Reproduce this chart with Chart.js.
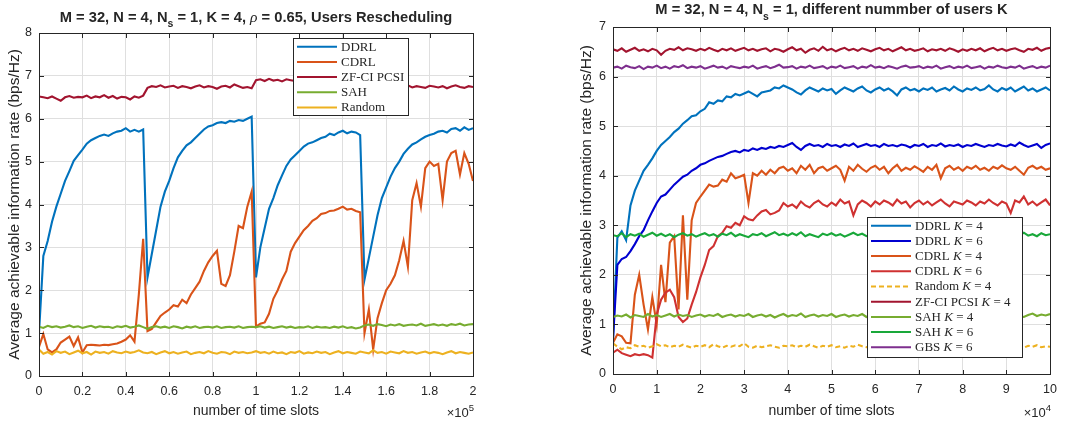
<!DOCTYPE html>
<html>
<head>
<meta charset="utf-8">
<title>Average achievable information rate</title>
<script src="https://cdn.jsdelivr.net/npm/chart.js@4.4.1/dist/chart.umd.min.js"></script>
<style>
  body { margin: 0; background: #fff; }
  #figure { position: relative; width: 1065px; height: 423px; }
  .panel { position: absolute; top: 0; width: 530px; height: 423px; }
</style>
</head>
<body>
<div id="figure">
  <div class="panel" style="left:0"><canvas id="chartResched"></canvas></div>
  <div class="panel" style="left:535px"><canvas id="chartUsers"></canvas></div>
</div>
<script>
const SANS = '"Liberation Sans", Arial, sans-serif';
const SERIF = '"Liberation Serif", "Times New Roman", serif';
const INK = '#262626';
const GRID = '#dfdfdf';

// ---------- left panel: users rescheduled every 0.5e5 slots ----------
// time axis in units of 1e5 slots, one sample every 2000 slots
const slotsResched = Array.from({ length: 101 }, (_, i) => +(i * 0.02).toFixed(2));

const ddrlResched = [
  1.00, 2.80, 3.15, 3.60, 3.95, 4.25, 4.55, 4.78, 5.02, 5.15,
  5.28, 5.42, 5.50, 5.55, 5.60, 5.63, 5.60, 5.66, 5.70, 5.72,
  5.78, 5.70, 5.74, 5.70, 5.75, 2.30, 2.85, 3.40, 3.95, 4.30,
  4.55, 4.85, 5.10, 5.25, 5.38, 5.45, 5.55, 5.65, 5.75, 5.82,
  5.85, 5.90, 5.92, 5.90, 5.95, 5.93, 5.97, 5.95, 6.00, 6.05,
  2.30, 3.00, 3.45, 3.90, 4.15, 4.45, 4.68, 4.90, 5.05, 5.15,
  5.25, 5.35, 5.42, 5.45, 5.50, 5.55, 5.58, 5.65, 5.62, 5.68,
  5.72, 5.66, 5.70, 5.68, 5.62, 2.25, 2.75, 3.25, 3.75, 4.15,
  4.40, 4.65, 4.85, 5.00, 5.18, 5.30, 5.40, 5.45, 5.52, 5.58,
  5.62, 5.65, 5.70, 5.72, 5.68, 5.76, 5.78, 5.72, 5.80, 5.74,
  5.78
];
const cdrlResched = [
  0.68, 0.98, 0.62, 0.55, 0.62, 0.78, 0.85, 0.92, 0.70, 0.90,
  0.55, 0.72, 0.73, 0.72, 0.71, 0.73, 0.72, 0.74, 0.76, 0.80,
  0.85, 0.95, 0.80, 1.90, 3.20, 1.05, 1.10, 1.25, 1.40, 1.48,
  1.55, 1.65, 1.62, 1.78, 1.70, 1.90, 2.05, 2.20, 2.45, 2.65,
  2.80, 2.92, 2.15, 2.10, 2.35, 2.90, 3.50, 3.45, 3.95, 4.30,
  1.15, 1.22, 1.25, 1.45, 1.80, 2.00, 2.25, 2.45, 2.90, 3.10,
  3.25, 3.40, 3.50, 3.62, 3.68, 3.78, 3.80, 3.85, 3.86, 3.90,
  3.95, 3.88, 3.90, 3.85, 3.82, 1.00, 1.55, 0.62, 1.35, 1.70,
  2.00, 2.15, 2.35, 2.70, 3.15, 2.55, 4.10, 4.50, 3.95, 4.85,
  5.00, 4.90, 4.95, 4.10, 5.00, 5.20, 5.25, 4.70, 5.20, 4.95,
  4.55
];
const zfResched = [
  6.52, 6.50, 6.48, 6.52, 6.47, 6.42, 6.50, 6.53, 6.49, 6.51,
  6.50, 6.54, 6.48, 6.52, 6.50, 6.55, 6.49, 6.53, 6.47, 6.51,
  6.50, 6.45, 6.52, 6.49, 6.54, 6.72, 6.76, 6.74, 6.78, 6.73,
  6.75, 6.77, 6.72, 6.76, 6.74, 6.71, 6.75, 6.78, 6.73, 6.76,
  6.74, 6.70, 6.75, 6.77, 6.73, 6.80, 6.76, 6.72, 6.74, 6.71,
  6.90, 6.92, 6.88, 6.93, 6.89, 6.91, 6.87, 6.92, 6.90, 6.88,
  6.93, 6.90, 6.89, 6.92, 6.87, 6.91, 6.90, 6.93, 6.88, 6.90,
  6.92, 6.89, 6.91, 6.88, 6.90, 6.76, 6.78, 6.73, 6.75, 6.77,
  6.72, 6.76, 6.74, 6.70, 6.75, 6.78, 6.73, 6.76, 6.74, 6.72,
  6.77, 6.75, 6.73, 6.76, 6.71, 6.75, 6.78, 6.74, 6.72, 6.76,
  6.74
];
const sahResched = [
  1.15, 1.12, 1.17, 1.14, 1.16, 1.13, 1.15, 1.18, 1.14, 1.16,
  1.12, 1.15, 1.17, 1.13, 1.16, 1.14, 1.15, 1.12, 1.16, 1.14,
  1.17, 1.13, 1.15, 1.18, 1.14, 1.10, 1.14, 1.16, 1.13, 1.15,
  1.12, 1.16, 1.14, 1.11, 1.15, 1.13, 1.16, 1.12, 1.14, 1.15,
  1.13, 1.16, 1.12, 1.14, 1.15, 1.13, 1.16, 1.12, 1.14, 1.15,
  1.14, 1.16, 1.13, 1.15, 1.12, 1.14, 1.16, 1.13, 1.15, 1.12,
  1.14, 1.13, 1.16, 1.12, 1.15, 1.13, 1.14, 1.12, 1.15, 1.13,
  1.16, 1.12, 1.14, 1.11, 1.13, 1.18, 1.20, 1.17, 1.21, 1.19,
  1.16, 1.20, 1.18, 1.21, 1.17, 1.19, 1.20, 1.18, 1.22, 1.17,
  1.19, 1.21, 1.18, 1.20, 1.17, 1.21, 1.19, 1.22, 1.18, 1.20,
  1.21
];
const randomResched = [
  0.62, 0.52, 0.56, 0.50, 0.58, 0.54, 0.57, 0.51, 0.55, 0.59,
  0.53, 0.56, 0.50, 0.57, 0.54, 0.56, 0.52, 0.58, 0.55, 0.53,
  0.57, 0.54, 0.56, 0.60, 0.55, 0.53, 0.56, 0.51, 0.55, 0.58,
  0.53, 0.56, 0.52, 0.55, 0.57, 0.51, 0.54, 0.56, 0.53, 0.58,
  0.54, 0.52, 0.56, 0.55, 0.51, 0.57, 0.54, 0.56, 0.53, 0.55,
  0.58, 0.54, 0.56, 0.52, 0.57, 0.53, 0.55, 0.51, 0.56, 0.54,
  0.58, 0.52, 0.55, 0.53, 0.57, 0.54, 0.56, 0.51, 0.55, 0.58,
  0.53, 0.56, 0.54, 0.52, 0.57, 0.55, 0.53, 0.60, 0.54, 0.56,
  0.52, 0.57, 0.55, 0.53, 0.58, 0.54, 0.56, 0.52, 0.55, 0.57,
  0.53, 0.56, 0.54, 0.51, 0.55, 0.58, 0.53, 0.56, 0.54, 0.52,
  0.55
];
const reschedLabels = ['DDRL', 'CDRL', 'ZF-CI PCSI', 'SAH', 'Random'];
const reschedColors = ['#0072BD', '#D95319', '#A2142F', '#77AC30', '#EDB120'];
const reschedXTicks = [0, 0.2, 0.4, 0.6, 0.8, 1, 1.2, 1.4, 1.6, 1.8, 2];
const reschedYTicks = [0, 1, 2, 3, 4, 5, 6, 7, 8];

// ---------- right panel: different number of users K ----------
// time axis in units of 1e4 slots, one sample every 1000 slots
const slotsUsers = Array.from({ length: 101 }, (_, i) => +(i * 0.1).toFixed(1));

const ddrlK4 = [
  0.70, 2.75, 2.88, 2.70, 3.40, 3.70, 3.90, 4.10, 4.22, 4.35,
  4.50, 4.62, 4.70, 4.78, 4.88, 4.95, 5.05, 5.12, 5.20, 5.22,
  5.30, 5.35, 5.48, 5.45, 5.52, 5.50, 5.60, 5.58, 5.65, 5.62,
  5.66, 5.70, 5.65, 5.60, 5.68, 5.70, 5.72, 5.78, 5.76, 5.82,
  5.78, 5.74, 5.68, 5.64, 5.72, 5.78, 5.74, 5.70, 5.76, 5.72,
  5.75, 5.65, 5.72, 5.78, 5.74, 5.70, 5.76, 5.80, 5.72, 5.68,
  5.74, 5.78, 5.72, 5.76, 5.70, 5.62, 5.74, 5.78, 5.72, 5.75,
  5.70, 5.76, 5.73, 5.78, 5.70, 5.74, 5.77, 5.72, 5.80, 5.74,
  5.70, 5.76, 5.73, 5.78, 5.72, 5.75, 5.82, 5.74, 5.70, 5.77,
  5.73, 5.78, 5.70, 5.75, 5.80, 5.72, 5.76, 5.70, 5.74, 5.78,
  5.72
];
const ddrlK6 = [
  0.70, 2.20, 2.32, 2.36, 2.48, 2.62, 2.78, 2.90, 3.10, 3.28,
  3.45, 3.58, 3.62, 3.72, 3.82, 3.90, 3.98, 4.02, 4.10, 4.15,
  4.22, 4.25, 4.30, 4.34, 4.38, 4.40, 4.44, 4.48, 4.50, 4.47,
  4.52, 4.50, 4.55, 4.52, 4.56, 4.54, 4.58, 4.56, 4.60, 4.58,
  4.62, 4.66, 4.58, 4.52, 4.60, 4.64, 4.60, 4.62, 4.58, 4.64,
  4.60, 4.62, 4.58, 4.63, 4.60, 4.65, 4.58, 4.61, 4.64, 4.60,
  4.62, 4.58, 4.64, 4.60, 4.62, 4.59, 4.63, 4.61, 4.57, 4.62,
  4.60, 4.64, 4.58, 4.62, 4.60, 4.65, 4.59, 4.62, 4.60, 4.63,
  4.58, 4.62, 4.60, 4.64, 4.61, 4.58, 4.62, 4.60, 4.64, 4.61,
  4.59, 4.63, 4.60, 4.67, 4.62, 4.58, 4.61, 4.64, 4.56, 4.62,
  4.65
];
const cdrlK4 = [
  0.63, 0.80, 0.76, 0.63, 0.62, 1.60, 2.00, 1.40, 0.90, 1.55,
  1.00, 2.20, 1.45, 2.65, 2.78, 1.30, 3.20, 1.50, 3.10, 3.45,
  3.58, 3.70, 3.82, 3.78, 3.80, 3.92, 3.88, 4.05, 3.95, 3.98,
  4.02, 3.45, 4.05, 4.00, 4.10, 4.02, 4.12, 4.05, 4.15, 4.18,
  4.10, 4.15, 4.05, 4.20, 4.12, 4.22, 4.05, 4.15, 4.18, 4.10,
  4.15, 4.20, 4.12, 3.90, 4.18, 4.10, 4.22, 4.14, 4.08, 4.16,
  4.20, 4.12, 4.18, 4.05, 4.15, 4.22, 4.10, 4.16, 4.12, 4.19,
  4.14, 4.08, 4.18, 4.12, 4.22, 3.95, 4.15, 4.20, 4.12, 4.17,
  4.10, 4.18, 4.14, 4.20, 4.12, 4.16, 4.10, 4.18, 4.14, 4.21,
  4.15, 4.12, 4.18, 4.10, 4.02, 4.16, 4.20, 4.14, 4.18, 4.12,
  4.15
];
const cdrlK6 = [
  0.43, 0.49, 0.42, 0.39, 0.36, 0.40, 0.38, 0.40, 0.38, 0.33,
  1.20, 1.50, 1.64, 1.70, 1.55, 1.15, 1.05, 1.12, 1.40, 1.65,
  1.95, 2.20, 2.50, 2.58, 2.78, 2.85, 2.98, 2.95, 3.05, 3.00,
  3.18, 3.12, 3.10, 3.20, 3.28, 3.31, 3.22, 3.25, 3.30, 3.45,
  3.38, 3.42, 3.35, 3.48, 3.40, 3.36, 3.45, 3.50, 3.42, 3.38,
  3.46, 3.40, 3.52, 3.44, 3.48, 3.20, 3.42, 3.50, 3.45, 3.38,
  3.48, 3.42, 3.50, 3.46, 3.40, 3.52, 3.44, 3.48, 3.36, 3.45,
  3.50, 3.42, 3.48, 3.40, 3.46, 3.52, 3.44, 3.38, 3.48, 3.45,
  3.42, 3.50, 3.46, 3.40, 3.48, 3.44, 3.52, 3.45, 3.40, 3.48,
  3.44, 3.25, 3.50, 3.46, 3.58, 3.42, 3.48, 3.40, 3.46, 3.52,
  3.40
];
const randomK4 = [
  0.62, 0.55, 0.50, 0.54, 0.52, 0.58, 0.55, 0.57, 0.53, 0.56,
  0.60, 0.56, 0.58, 0.54, 0.57, 0.55, 0.59, 0.56, 0.53, 0.57,
  0.55, 0.58, 0.54, 0.60, 0.56, 0.53, 0.57, 0.55, 0.58, 0.56,
  0.62, 0.55, 0.53, 0.57, 0.54, 0.56, 0.58, 0.55, 0.53, 0.57,
  0.56, 0.58, 0.54, 0.57, 0.55, 0.59, 0.56, 0.53, 0.57, 0.55,
  0.58, 0.54, 0.56, 0.53, 0.57, 0.55, 0.59, 0.56, 0.54, 0.57,
  0.55, 0.58, 0.54, 0.56, 0.53, 0.57, 0.55, 0.58, 0.54, 0.56,
  0.57, 0.54, 0.56, 0.59, 0.55, 0.53, 0.57, 0.55, 0.58, 0.54,
  0.56, 0.53, 0.57, 0.55, 0.58, 0.54, 0.56, 0.59, 0.55, 0.57,
  0.54, 0.56, 0.58, 0.55, 0.53, 0.57, 0.55, 0.58, 0.54, 0.56,
  0.55
];
const zfK4 = [
  6.55, 6.52, 6.57, 6.50, 6.54, 6.58, 6.52, 6.55, 6.51, 6.56,
  6.53, 6.44, 6.52, 6.56, 6.54, 6.59, 6.53, 6.57, 6.55, 6.52,
  6.56, 6.53, 6.58, 6.54, 6.51, 6.56, 6.53, 6.57, 6.52, 6.55,
  6.58, 6.53, 6.56, 6.52, 6.55, 6.57, 6.51, 6.56, 6.54, 6.50,
  6.55, 6.59, 6.53, 6.56, 6.48, 6.54, 6.57, 6.52, 6.60, 6.53,
  6.56, 6.51, 6.55, 6.58, 6.53, 6.56, 6.52, 6.57, 6.54, 6.51,
  6.55, 6.58, 6.53, 6.56, 6.51, 6.55, 6.59, 6.53, 6.56, 6.52,
  6.54, 6.57, 6.51, 6.55, 6.53, 6.56, 6.52, 6.57, 6.54, 6.50,
  6.55, 6.52, 6.56, 6.53, 6.57, 6.51, 6.55, 6.58, 6.53, 6.56,
  6.52, 6.55, 6.57, 6.53, 6.50, 6.56, 6.54, 6.58, 6.52, 6.56,
  6.58
];
const sahK4 = [
  1.15, 1.18, 1.16, 1.20, 1.14, 1.19, 1.17, 1.15, 1.21, 1.16,
  1.19, 1.15, 1.18, 1.21, 1.16, 1.20, 1.17, 1.19, 1.15, 1.18,
  1.20, 1.16, 1.19, 1.17, 1.21, 1.15, 1.18, 1.20, 1.16, 1.19,
  1.17, 1.21, 1.15, 1.18, 1.20, 1.16, 1.19, 1.14, 1.18, 1.21,
  1.16, 1.19, 1.17, 1.22, 1.15, 1.18, 1.20, 1.16, 1.19, 1.17,
  1.21, 1.15, 1.18, 1.20, 1.16, 1.19, 1.17, 1.21, 1.15, 1.18,
  1.20, 1.16, 1.19, 1.17, 1.21, 1.15, 1.18, 1.20, 1.16, 1.19,
  1.17, 1.21, 1.15, 1.19, 1.17, 1.20, 1.16, 1.18, 1.21, 1.16,
  1.19, 1.17, 1.20, 1.15, 1.18, 1.21, 1.16, 1.19, 1.17, 1.20,
  1.16, 1.19, 1.21, 1.17, 1.15, 1.19, 1.22, 1.17, 1.20, 1.18,
  1.21
];
const sahK6 = [
  2.80, 2.78, 2.84, 2.76, 2.82, 2.79, 2.83, 2.77, 2.81, 2.85,
  2.79, 2.83, 2.78, 2.82, 2.76, 2.81, 2.84, 2.79, 2.82, 2.77,
  2.81, 2.84, 2.79, 2.82, 2.77, 2.83, 2.80, 2.85, 2.78, 2.82,
  2.79, 2.76, 2.82, 2.80, 2.84, 2.78, 2.82, 2.86, 2.80, 2.83,
  2.79, 2.84, 2.80, 2.86, 2.78, 2.82, 2.79, 2.76, 2.83, 2.80,
  2.84, 2.79, 2.82, 2.77, 2.81, 2.85, 2.80, 2.83, 2.78, 2.82,
  2.80, 2.84, 2.79, 2.82, 2.86, 2.80, 2.83, 2.78, 2.82, 2.85,
  2.80, 2.83, 2.79, 2.84, 2.81, 2.86, 2.79, 2.83, 2.80, 2.82,
  2.85, 2.80, 2.83, 2.78, 2.82, 2.86, 2.80, 2.83, 2.79, 2.84,
  2.81, 2.78, 2.83, 2.80, 2.85, 2.79, 2.82, 2.78, 2.84, 2.80,
  2.82
];
const gbsK6 = [
  6.18, 6.20, 6.16, 6.22, 6.19, 6.17, 6.21, 6.15, 6.20, 6.18,
  6.22, 6.17, 6.20, 6.16, 6.21, 6.19, 6.23, 6.17, 6.20, 6.18,
  6.21, 6.16, 6.19, 6.22, 6.18, 6.20, 6.16, 6.21, 6.19, 6.17,
  6.20, 6.18, 6.22, 6.16, 6.19, 6.21, 6.17, 6.20, 6.24, 6.18,
  6.19, 6.21, 6.16, 6.20, 6.18, 6.22, 6.17, 6.19, 6.21, 6.16,
  6.20, 6.18, 6.22, 6.17, 6.19, 6.21, 6.16, 6.20, 6.18, 6.23,
  6.18, 6.20, 6.17, 6.21, 6.19, 6.16, 6.20, 6.22, 6.18, 6.19,
  6.21, 6.17, 6.20, 6.18, 6.22, 6.16, 6.19, 6.21, 6.17, 6.20,
  6.18, 6.22, 6.17, 6.19, 6.21, 6.16, 6.20, 6.18, 6.22, 6.19,
  6.17, 6.20, 6.18, 6.22, 6.16, 6.19, 6.21, 6.17, 6.20, 6.18,
  6.22
];
const usersLabels = [
  'DDRL K = 4', 'DDRL K = 6', 'CDRL K = 4', 'CDRL K = 6', 'Random K = 4',
  'ZF-CI PCSI K = 4', 'SAH K = 4', 'SAH K = 6', 'GBS K = 6'
];
const usersColors = [
  '#0072BD', '#0000D0', '#D95319', '#CF3131', '#EDB120',
  '#A2142F', '#77AC30', '#19A83A', '#7E2F8E'
];
const usersXTicks = [0, 1, 2, 3, 4, 5, 6, 7, 8, 9, 10];
const usersYTicks = [0, 1, 2, 3, 4, 5, 6, 7];

// draws a row of differently styled text pieces (sub/superscripts via dy)
function drawRuns(ctx, runs, x, y, align) {
  let total = 0;
  runs.forEach(r => { ctx.font = r.font; r.w = ctx.measureText(r.text).width; total += r.w; });
  let cx = align === 'center' ? x - total / 2 : align === 'right' ? x - total : x;
  ctx.textAlign = 'left';
  runs.forEach(r => { ctx.font = r.font; ctx.fillText(r.text, cx, y + (r.dy || 0)); cx += r.w; });
}

// legend entries are LaTeX-like: the K is set in math italic
function legendRuns(label) {
  return label.split(/(\bK\b)/).filter(s => s).map(s => ({
    text: s,
    font: s === 'K' ? `italic 13px ${SERIF}` : `13px ${SERIF}`
  }));
}

function decor(p) {
  return {
    id: 'decor',
    afterDatasetsDraw(chart) {
      const ctx = chart.ctx, lg = p.legend;
      ctx.save();
      ctx.fillStyle = '#fff';
      ctx.fillRect(lg.x, lg.y, lg.w, lg.h);
      ctx.strokeStyle = INK;
      ctx.lineWidth = 1;
      ctx.strokeRect(lg.x + 0.5, lg.y + 0.5, lg.w, lg.h);
      chart.data.datasets.forEach((ds, k) => {
        const cy = lg.y + lg.first + k * lg.step;
        ctx.strokeStyle = ds.borderColor;
        ctx.lineWidth = 2;
        ctx.setLineDash(ds.borderDash);
        ctx.beginPath();
        ctx.moveTo(lg.x + 4, cy);
        ctx.lineTo(lg.x + 44, cy);
        ctx.stroke();
        ctx.setLineDash([]);
        ctx.fillStyle = INK;
        ctx.textBaseline = 'middle';
        drawRuns(ctx, legendRuns(ds.label), lg.x + 48, cy + 0.5, 'left');
      });
      ctx.restore();
    },
    afterDraw(chart) {
      const ctx = chart.ctx, a = chart.chartArea;
      const L = Math.round(a.left) + 0.5, R = Math.round(a.right) + 0.5;
      const T = Math.round(a.top) + 0.5, B = Math.round(a.bottom) + 0.5;
      ctx.save();
      // axes box with inward ticks on all four sides
      ctx.strokeStyle = INK;
      ctx.lineWidth = 1;
      ctx.strokeRect(L, T, R - L, B - T);
      ctx.beginPath();
      p.xTicks.forEach(v => {
        const x = Math.round(chart.scales.x.getPixelForValue(v)) + 0.5;
        ctx.moveTo(x, B); ctx.lineTo(x, B - 4.5);
        ctx.moveTo(x, T); ctx.lineTo(x, T + 4.5);
      });
      p.yTicks.forEach(v => {
        const y = Math.round(chart.scales.y.getPixelForValue(v)) + 0.5;
        ctx.moveTo(L, y); ctx.lineTo(L + 4.5, y);
        ctx.moveTo(R, y); ctx.lineTo(R - 4.5, y);
      });
      ctx.stroke();

      ctx.fillStyle = INK;
      ctx.textBaseline = 'alphabetic';
      const midX = (a.left + a.right) / 2;
      drawRuns(ctx, p.title, midX, p.titleY, 'center');
      drawRuns(ctx, [{ text: 'number of time slots', font: `14px ${SANS}` }], midX, 415, 'center');
      drawRuns(ctx, [
        { text: '\u00d710', font: `13px ${SANS}` },
        { text: p.exponent, font: `9.5px ${SANS}`, dy: -6.5 }
      ], a.right + 1, 417, 'right');

      ctx.translate(p.yTitleX, (a.top + a.bottom) / 2);
      ctx.rotate(-Math.PI / 2);
      drawRuns(ctx, [{ text: 'Average achievable information rate (bps/Hz)', font: `15.5px ${SANS}` }], 0, 0, 'center');
      ctx.restore();
    }
  };
}

function makePanel(id, p) {
  const n = p.series.length;
  const datasets = p.series.map((ys, k) => ({
    label: p.labels[k],
    data: ys.map((y, i) => ({ x: p.slots[i], y })),
    borderColor: p.colors[k],
    borderWidth: 2.1,
    borderDash: p.dashed.includes(k) ? [5, 3] : [],
    pointRadius: 0,
    tension: 0,
    order: n - k
  }));
  const tickFont = { family: SANS, size: 12.5 };
  return new Chart(document.getElementById(id), {
    type: 'line',
    data: { datasets },
    options: {
      responsive: true,
      maintainAspectRatio: false,
      animation: false,
      devicePixelRatio: 1,
      layout: { padding: p.padding },
      plugins: { legend: { display: false }, tooltip: { enabled: false } },
      scales: {
        x: {
          type: 'linear',
          min: p.xTicks[0],
          max: p.xTicks[p.xTicks.length - 1],
          afterBuildTicks: s => { s.ticks = p.xTicks.map(v => ({ value: v })); },
          afterFit: s => { s.height = p.xAxisHeight; },
          grid: { color: GRID, drawTicks: false },
          border: { display: false },
          ticks: { color: INK, font: tickFont, padding: 8, maxRotation: 0, autoSkip: false, callback: v => String(v) }
        },
        y: {
          min: p.yTicks[0],
          max: p.yTicks[p.yTicks.length - 1],
          afterBuildTicks: s => { s.ticks = p.yTicks.map(v => ({ value: v })); },
          afterFit: s => { s.width = p.yAxisWidth; },
          grid: { color: GRID, drawTicks: false },
          border: { display: false },
          ticks: { color: INK, font: tickFont, padding: 7, callback: v => String(v) }
        }
      }
    },
    plugins: [decor(p)]
  });
}

const boldTitle = `bold 14.7px ${SANS}`;
const subS = { text: 's', font: `bold 10.5px ${SANS}`, dy: 5.5 };

makePanel('chartResched', {
  slots: slotsResched,
  series: [ddrlResched, cdrlResched, zfResched, sahResched, randomResched],
  labels: reschedLabels,
  colors: reschedColors,
  dashed: [],
  xTicks: reschedXTicks,
  yTicks: reschedYTicks,
  padding: { left: 0, right: 57, top: 33, bottom: 0 },
  yAxisWidth: 39,
  xAxisHeight: 47,
  title: [
    { text: 'M = 32, N = 4, N', font: boldTitle }, subS,
    { text: ' = 1, K = 4, ', font: boldTitle },
    { text: '\u03c1', font: `italic 15.5px ${SERIF}` },
    { text: ' = 0.65, Users Rescheduling', font: boldTitle }
  ],
  titleY: 21.5,
  exponent: '5',
  yTitleX: 19,
  legend: { x: 293, y: 38, w: 115, h: 77, first: 8.7, step: 15.2 }
});

makePanel('chartUsers', {
  slots: slotsUsers,
  series: [ddrlK4, ddrlK6, cdrlK4, cdrlK6, randomK4, zfK4, sahK4, sahK6, gbsK6],
  labels: usersLabels,
  colors: usersColors,
  dashed: [4],
  xTicks: usersXTicks,
  yTicks: usersYTicks,
  padding: { left: 0, right: 9, top: 27, bottom: 0 },
  yAxisWidth: 78,
  xAxisHeight: 49,
  title: [
    { text: 'M = 32, N = 4, N', font: boldTitle }, subS,
    { text: ' = 1, different nummber of users K', font: boldTitle }
  ],
  titleY: 14,
  exponent: '4',
  yTitleX: 55.5,
  legend: { x: 332, y: 217, w: 155, h: 140, first: 8.7, step: 15.2 }
});
</script>
</body>
</html>
